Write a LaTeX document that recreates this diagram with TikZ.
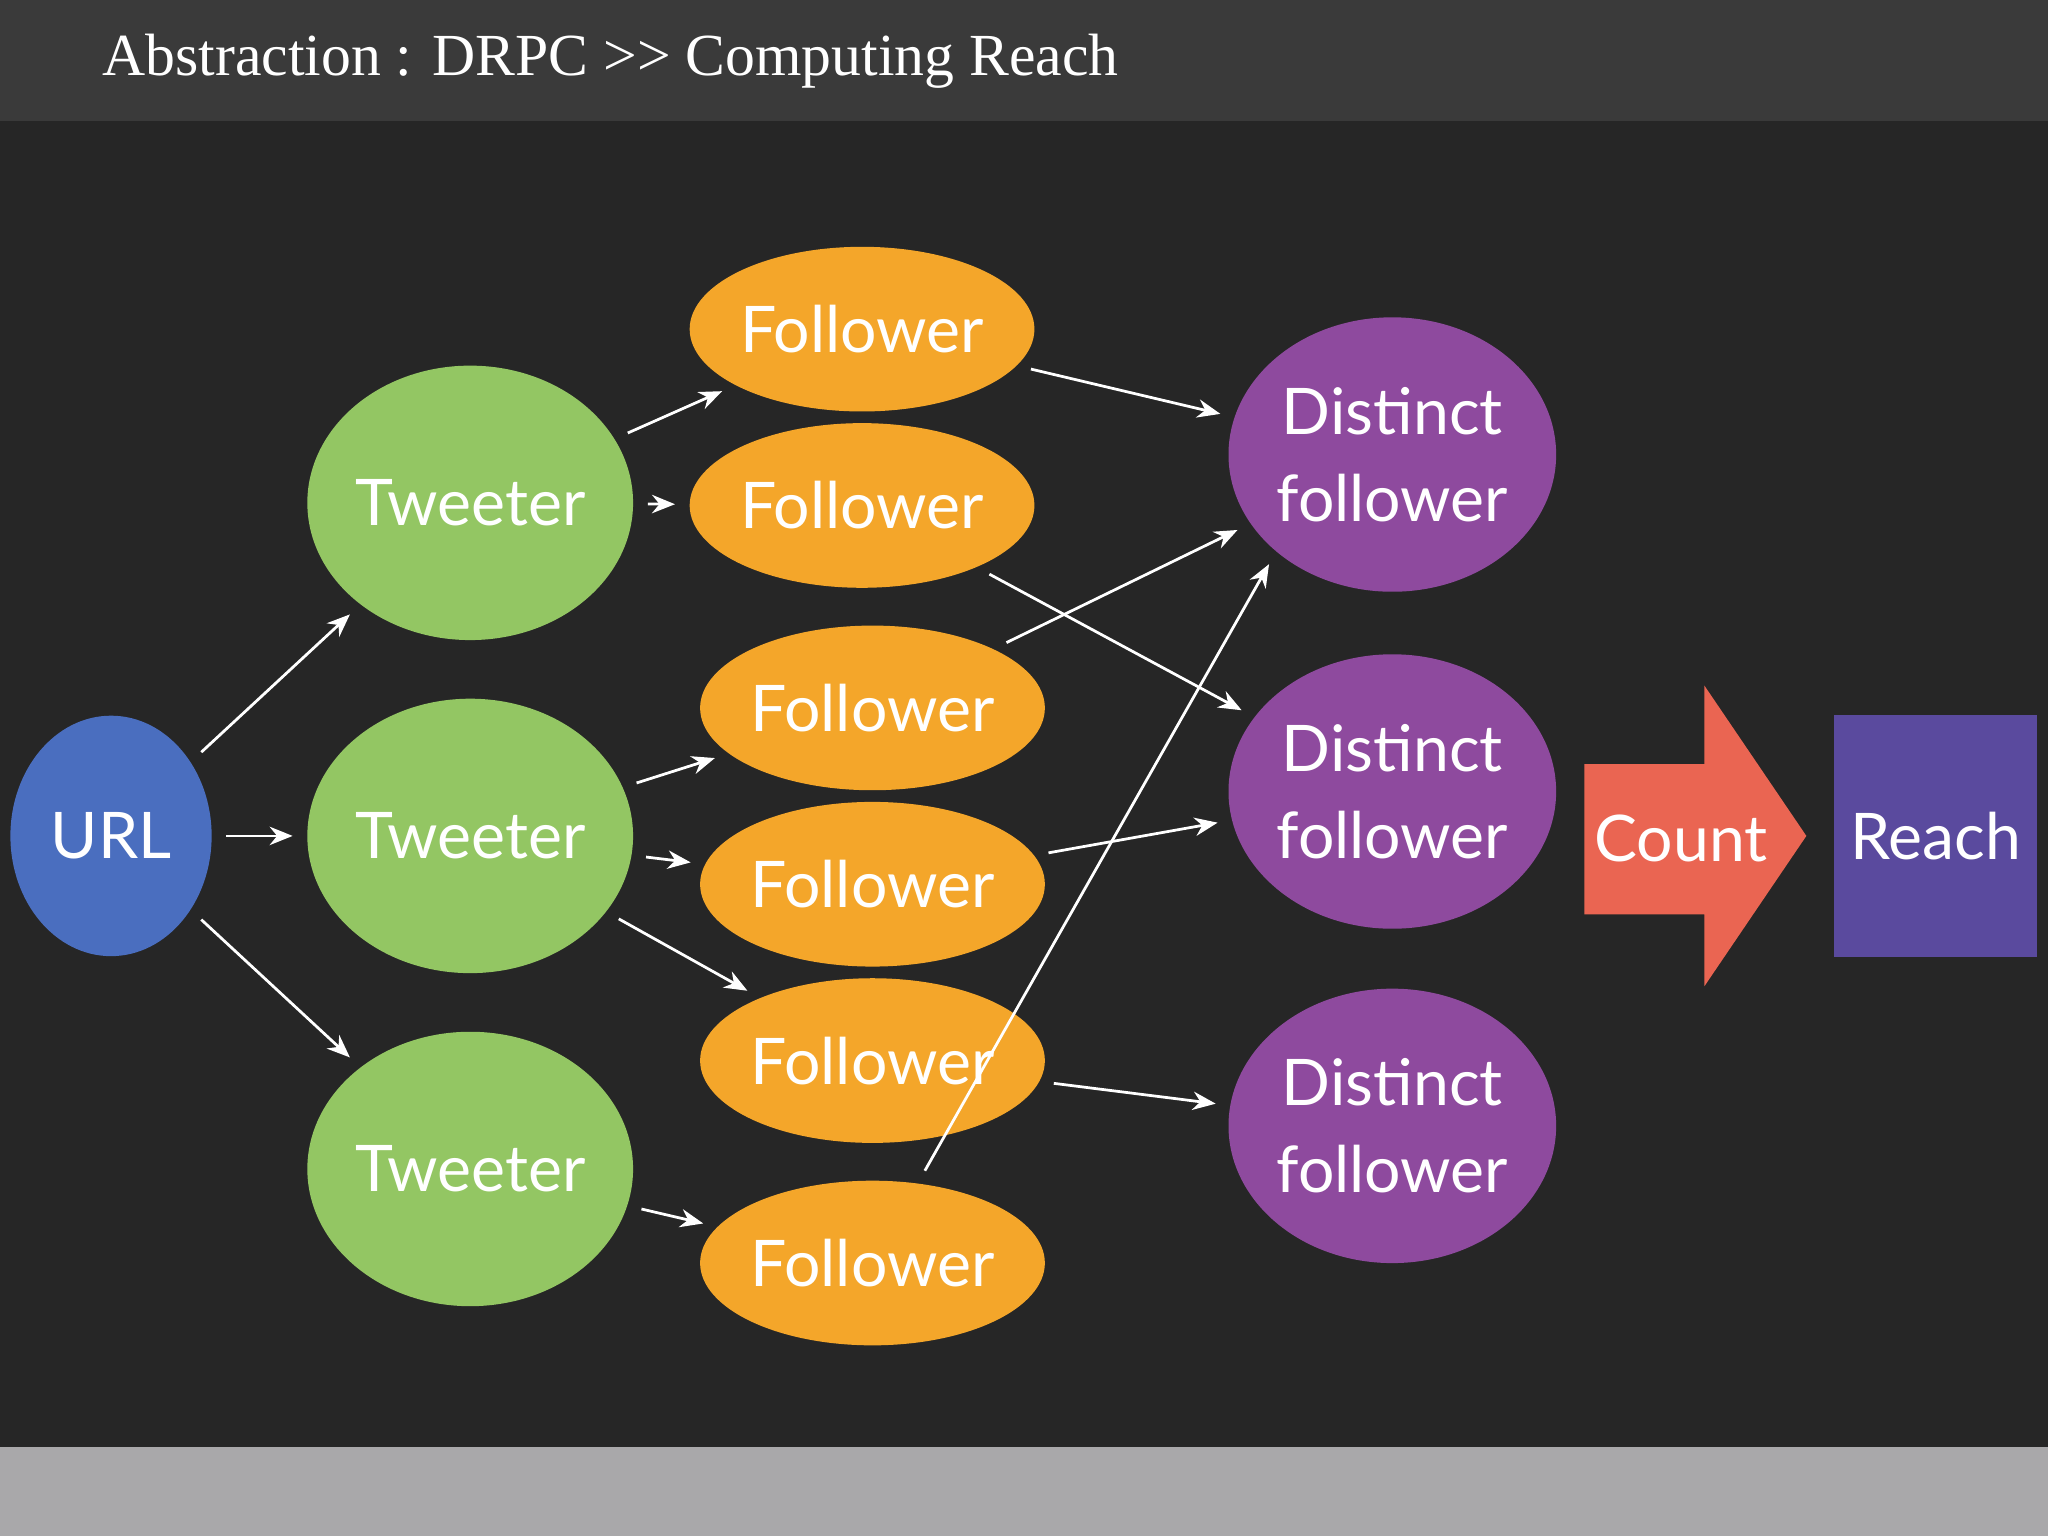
\documentclass[tikz,border=0pt]{standalone}
\usepackage{fontspec}
\setmainfont{Lato}
\newfontfamily\titlefont{Liberation Serif}
\usetikzlibrary{shapes.geometric,arrows.meta}
\definecolor{hdr}{HTML}{3A3A3A}
\definecolor{bgc}{HTML}{262626}
\definecolor{foot}{HTML}{A9A8AA}
\definecolor{urlc}{HTML}{4A6EBF}
\definecolor{twc}{HTML}{93C663}
\definecolor{flc}{HTML}{F4A62A}
\definecolor{dsc}{HTML}{8E4A9E}
\definecolor{cnt}{HTML}{EA6552}
\definecolor{rch}{HTML}{5A4A9E}
\tikzset{
 ell/.style={ellipse,inner sep=0pt,text=white,align=center,font=\fontsize{14}{16}\selectfont},
 urlnode/.style={ell,fill=urlc,minimum width=1.54cm,minimum height=1.84cm},
 tw/.style={ell,fill=twc,minimum width=1.8cm,minimum height=2.1cm},
 fl/.style={ell,fill=flc,minimum width=2.5cm,minimum height=1.26cm},
 ds/.style={ell,fill=dsc,minimum width=2.5cm,minimum height=2.1cm,font=\fontsize{14}{19}\selectfont},
 con/.style={draw=white,line width=0.6pt,-{Stealth[length=5pt,width=4pt]},shorten >=3pt,shorten <=3pt},
}
\begin{document}
\begin{tikzpicture}[x=0.01cm,y=-0.01cm]
\useasboundingbox (0,0) rectangle (1568,1176);
\fill[bgc] (0,0) rectangle (1568,1176);
\fill[hdr] (0,0) rectangle (1568,93);
\fill[foot] (0,1108) rectangle (1568,1176);
\node[anchor=west,text=white,font=\titlefont\fontsize{13}{15}\selectfont\scshape] (title) at (66,47) {Abstraction : DRPC {>>} Computing Reach};
\node[urlnode] (u) at (85,640) {URL};
\node[tw] (t1) at (360,385) {Tweeter};
\node[tw] (t2) at (360,640) {Tweeter};
\node[tw] (t3) at (360,895) {Tweeter};
\node[fl] (f1) at (660,252) {Follower};
\node[fl] (f2) at (660,387) {Follower};
\node[fl] (f3) at (668,542) {Follower};
\node[fl] (f4) at (668,677) {Follower};
\node[fl] (f5) at (668,812) {Follower};
\node[fl] (f6) at (668,967) {Follower};
\node[ds] (d1) at (1066,348) {Distinct\\follower};
\node[ds] (d2) at (1066,606) {Distinct\\follower};
\node[ds] (d3) at (1066,862) {Distinct\\follower};
\fill[cnt] (1213,585) -- (1305,585) -- (1305,525) -- (1383,640) -- (1305,755) -- (1305,700) -- (1213,700) -- cycle;
\node[text=white,font=\fontsize{14}{16}\selectfont] (c) at (1287,642) {Count};
\node[fill=rch,minimum width=1.55cm,minimum height=1.85cm,inner sep=0pt,text=white,font=\fontsize{14}{16}\selectfont] (r) at (1482,640) {Reach};
\draw[con] (u) -- (t1);
\draw[con] (u) -- (t2);
\draw[con] (u) -- (t3);
\draw[con] (t1) -- (f1);
\draw[con] (t1) -- (f2);
\draw[con] (t2) -- (f3);
\draw[con] (t2) -- (f4);
\draw[con] (t2) -- (f5);
\draw[con] (t3) -- (f6);
\draw[con] (f1) -- (d1);
\draw[con] (f2) -- (d2);
\draw[con] (f3) -- (d1);
\draw[con] (f4) -- (d2);
\draw[con] (f5) -- (d3);
\draw[con] (f6) -- (d1.south west);
\end{tikzpicture}
\end{document}
